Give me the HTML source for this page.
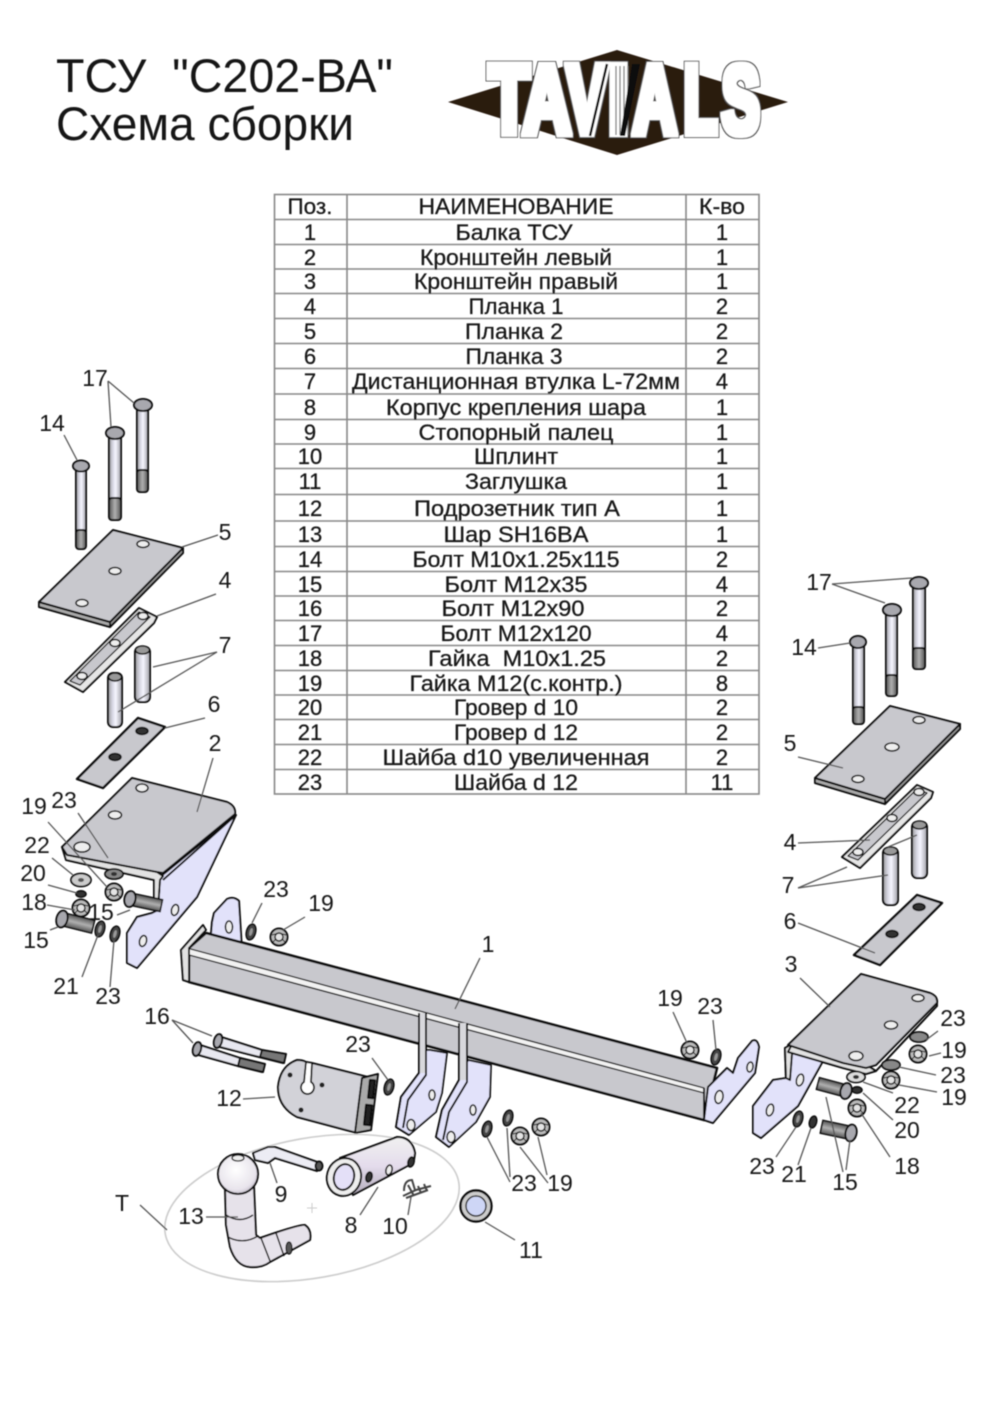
<!DOCTYPE html>
<html><head><meta charset="utf-8">
<style>
html,body{margin:0;padding:0;background:#fff}
svg{display:block}
text{font-family:"Liberation Sans",sans-serif;fill:#151515}
.l text{font-size:23px;text-anchor:middle}
.t text{font-size:22px;text-anchor:middle;stroke:#151515;stroke-width:.25}
.ld line{stroke:#555;stroke-width:1.3}
.p{stroke:#111;stroke-width:2;stroke-linejoin:round}
.g{fill:#c8c8cd}
.v{fill:#e2e2fa}
.h{fill:#eee;stroke:#111;stroke-width:1.6}
.hd{fill:#a8a8ae;stroke:#111;stroke-width:2}
.sl{fill:#999;stroke:#111;stroke-width:1.6}
.d{fill:#333;stroke:#111;stroke-width:1.6}
</style></head><body>
<svg xmlns="http://www.w3.org/2000/svg" width="1000" height="1414" viewBox="0 0 1000 1414">
<defs>
<linearGradient id="sh" x1="0" x2="1" y1="0" y2="0"><stop offset="0" stop-color="#999"/><stop offset=".3" stop-color="#d4d4e0"/><stop offset=".55" stop-color="#f6f6ff"/><stop offset="1" stop-color="#a0a0a8"/></linearGradient>
<linearGradient id="th" x1="0" x2="1" y1="0" y2="0"><stop offset="0" stop-color="#555"/><stop offset=".5" stop-color="#b0b0b0"/><stop offset="1" stop-color="#555"/></linearGradient>
<linearGradient id="cy" x1="0" x2="0" y1="0" y2="1"><stop offset="0" stop-color="#f0f0f0"/><stop offset=".5" stop-color="#e4dcec"/><stop offset="1" stop-color="#b4acbc"/></linearGradient>
<radialGradient id="bl" cx=".45" cy=".4" r=".7"><stop offset="0" stop-color="#fff"/><stop offset=".7" stop-color="#e8e4ec"/><stop offset="1" stop-color="#b0a8b8"/></radialGradient>
<g id="nut"><circle r="8.5" fill="#bbb" stroke="#111" stroke-width="2"/><circle r="4" fill="#e4e4e4" stroke="#222" stroke-width="1.500"/><path d="M-7 -2L0 -4M7 -2L0 -4M-6 5L-3 2M6 5L3 2" stroke="#222" stroke-width="1" fill="none"/></g>
<g id="ws"><ellipse rx="4.500" ry="8" fill="#444" stroke="#111" stroke-width="1.600" transform="rotate(15)"/><ellipse rx="1.600" ry="4" fill="#999" transform="rotate(15)"/></g>
<filter id="lg" x="-20%" y="-20%" width="140%" height="140%">
<feMorphology in="SourceAlpha" operator="dilate" radius="2.600" result="o"/><feFlood flood-color="#555"/><feComposite in2="o" operator="in" result="oc"/>
<feMorphology in="SourceAlpha" operator="dilate" radius="1.500" result="i"/><feFlood flood-color="#fff"/><feComposite in2="i" operator="in" result="ic"/>
<feMerge><feMergeNode in="oc"/><feMergeNode in="ic"/></feMerge></filter>
<filter id="bb"><feGaussianBlur stdDeviation="0.5"/></filter>
</defs>
<rect width="1000" height="1414" fill="#fff"/>
<g filter="url(#bb)">

<text x="56" y="92" font-size="47" textLength="337" lengthAdjust="spacingAndGlyphs" xml:space="preserve">ТСУ  "С202-ВА"</text>
<text x="56" y="140" font-size="47" textLength="298" lengthAdjust="spacingAndGlyphs">Схема сборки</text>

<polygon points="448,102 617,50 788,102 617,155" fill="#2b1a10"/>
<g font-size="97" filter="url(#lg)" stroke="#000" stroke-width="5" stroke-linejoin="miter">
<text transform="translate(489,133) scale(.68,1)" style="font-weight:bold">T</text>
<text transform="translate(523,133) scale(.68,1)" style="font-weight:bold">A</text>
<text transform="translate(567,133) scale(.62,1)" style="font-weight:bold">V</text>
<text transform="translate(608,133) scale(.78,1)" style="font-weight:bold">I</text>
<text transform="translate(633,133) scale(.62,1)" style="font-weight:bold">A</text>
<text transform="translate(684,133) scale(.56,1)" style="font-weight:bold">L</text>
<text transform="translate(722,133) scale(.58,1)" style="font-weight:bold">S</text>
</g>
<path d="M616 66V135M620 66V135M624 66V135M628 66V135" stroke="#777" stroke-width="1.300" fill="none"/>
<path d="M611 64L606 136M632 64L640 64L625 136L620 136Z" fill="#111"/>
<path d="M607 64L590 136" stroke="#111" stroke-width="2.500" fill="none"/>

<g stroke="#888" stroke-width="1.600" fill="none">
<rect x="274.500" y="194.500" width="484.500" height="599.500"/>
<path d="M347 194V794M686 194V794"/>
<path d="M274 219.500H759M274 244.500H759M274 269H759M274 293.500H759M274 318.500H759M274 343.500H759M274 368.500H759M274 394H759M274 419.500H759M274 444H759M274 468.500H759M274 494.500H759M274 521H759M274 546.500H759M274 571.500H759M274 596H759M274 620.500H759M274 645.500H759M274 670.500H759M274 695H759M274 719.500H759M274 744.500H759M274 769.500H759"/>
</g>
<g class="t">
<text x="310" y="214" font-size="20" textLength="45" lengthAdjust="spacingAndGlyphs">Поз.</text><text x="516" y="214" textLength="195" lengthAdjust="spacingAndGlyphs">НАИМЕНОВАНИЕ</text><text x="722" y="214" font-size="20" textLength="46" lengthAdjust="spacingAndGlyphs">К-во</text>
<text x="310" y="240">1</text><text x="514" y="240" textLength="117" lengthAdjust="spacingAndGlyphs">Балка ТСУ</text><text x="722" y="240">1</text>
<text x="310" y="265">2</text><text x="516" y="265" textLength="192" lengthAdjust="spacingAndGlyphs">Кронштейн левый</text><text x="722" y="265">1</text>
<text x="310" y="289">3</text><text x="516" y="289" textLength="204" lengthAdjust="spacingAndGlyphs">Кронштейн правый</text><text x="722" y="289">1</text>
<text x="310" y="314">4</text><text x="516" y="314" textLength="95" lengthAdjust="spacingAndGlyphs">Планка 1</text><text x="722" y="314">2</text>
<text x="310" y="339">5</text><text x="514" y="339" textLength="98" lengthAdjust="spacingAndGlyphs">Планка 2</text><text x="722" y="339">2</text>
<text x="310" y="364">6</text><text x="514" y="364" textLength="97" lengthAdjust="spacingAndGlyphs">Планка 3</text><text x="722" y="364">2</text>
<text x="310" y="389">7</text><text x="516" y="389" textLength="328" lengthAdjust="spacingAndGlyphs">Дистанционная втулка L-72мм</text><text x="722" y="389">4</text>
<text x="310" y="415">8</text><text x="516" y="415" textLength="260" lengthAdjust="spacingAndGlyphs">Корпус крепления шара</text><text x="722" y="415">1</text>
<text x="310" y="440">9</text><text x="516" y="440" textLength="195" lengthAdjust="spacingAndGlyphs">Стопорный палец</text><text x="722" y="440">1</text>
<text x="310" y="464">10</text><text x="516" y="464" textLength="84" lengthAdjust="spacingAndGlyphs">Шплинт</text><text x="722" y="464">1</text>
<text x="310" y="489">11</text><text x="516" y="489" textLength="102" lengthAdjust="spacingAndGlyphs">Заглушка</text><text x="722" y="489">1</text>
<text x="310" y="516">12</text><text x="517" y="516" textLength="206" lengthAdjust="spacingAndGlyphs">Подрозетник тип А</text><text x="722" y="516">1</text>
<text x="310" y="542">13</text><text x="516" y="542" textLength="145" lengthAdjust="spacingAndGlyphs">Шар SH16BA</text><text x="722" y="542">1</text>
<text x="310" y="567">14</text><text x="516" y="567" textLength="207" lengthAdjust="spacingAndGlyphs">Болт М10х1.25х115</text><text x="722" y="567">2</text>
<text x="310" y="592">15</text><text x="516" y="592" textLength="143" lengthAdjust="spacingAndGlyphs">Болт М12х35</text><text x="722" y="592">4</text>
<text x="310" y="616">16</text><text x="513" y="616" textLength="143" lengthAdjust="spacingAndGlyphs">Болт М12х90</text><text x="722" y="616">2</text>
<text x="310" y="641">17</text><text x="516" y="641" textLength="151" lengthAdjust="spacingAndGlyphs">Болт М12х120</text><text x="722" y="641">4</text>
<text x="310" y="666">18</text><text x="517" y="666" textLength="178" lengthAdjust="spacingAndGlyphs" xml:space="preserve">Гайка  М10х1.25</text><text x="722" y="666">2</text>
<text x="310" y="691">19</text><text x="516" y="691" textLength="213" lengthAdjust="spacingAndGlyphs">Гайка М12(с.контр.)</text><text x="722" y="691">8</text>
<text x="310" y="715">20</text><text x="516" y="715" textLength="124" lengthAdjust="spacingAndGlyphs">Гровер d 10</text><text x="722" y="715">2</text>
<text x="310" y="740">21</text><text x="516" y="740" textLength="124" lengthAdjust="spacingAndGlyphs">Гровер d 12</text><text x="722" y="740">2</text>
<text x="310" y="765">22</text><text x="516" y="765" textLength="267" lengthAdjust="spacingAndGlyphs">Шайба d10 увеличенная</text><text x="722" y="765">2</text>
<text x="310" y="790">23</text><text x="516" y="790" textLength="124" lengthAdjust="spacingAndGlyphs">Шайба d 12</text><text x="722" y="790">11</text>
</g>

<!-- left column bolts -->
<g class="p">
<rect x="137" y="408" width="11" height="64" fill="url(#sh)"/><rect x="137" y="470" width="11" height="22" rx="3" fill="url(#th)"/><ellipse cx="143" cy="405" rx="9" ry="6" class="hd"/>
<rect x="109" y="436" width="12" height="64" fill="url(#sh)"/><rect x="109" y="498" width="12" height="22" rx="3" fill="url(#th)"/><ellipse cx="115" cy="433" rx="9" ry="6" class="hd"/>
<rect x="76" y="470" width="10" height="62" fill="url(#sh)"/><rect x="76" y="530" width="10" height="19" rx="3" fill="url(#th)"/><ellipse cx="81" cy="466" rx="8" ry="5.500" class="hd"/>
<polygon points="39,602 110,622 110,627 39,607" fill="#aaa"/><polygon points="110,622 183,548 183,553 110,627" fill="#999"/>
<polygon points="113,530 183,548 110,622 39,602" class="g"/>
<polygon points="139,608 157,617 154,623 83,692 65,682" fill="#e6e6e6"/>
<polygon points="139,612 150,617 80,685 70,681" class="g" stroke-width="1.300"/>
<rect x="135" y="647" width="15" height="55" rx="5" fill="url(#sh)"/><ellipse cx="142.500" cy="650" rx="7" ry="4" class="sl"/>
<rect x="108" y="673" width="14" height="54" rx="5" fill="url(#sh)"/><ellipse cx="115" cy="677" rx="6.500" ry="4" class="sl"/>
<polygon points="138,718 165,727 103,788 77,779" class="g" stroke-width="2.400"/>
</g>
<g>
<ellipse cx="143" cy="544" rx="6" ry="3.500" class="h"/><ellipse cx="115" cy="571" rx="6" ry="3.500" class="h"/><ellipse cx="82" cy="603" rx="6" ry="3.500" class="h"/>
<ellipse cx="143" cy="616" rx="5" ry="3.500" class="h"/><ellipse cx="115" cy="643" rx="5" ry="3.500" class="h"/><ellipse cx="82" cy="676" rx="5" ry="3.500" class="h"/>
<ellipse cx="142" cy="731" rx="6" ry="3.500" class="d"/><ellipse cx="115" cy="757" rx="6" ry="3.500" class="d"/>
</g>

<!-- bracket 2 -->
<g class="p">
<polygon points="236,815 197,897 137,968 127,963 127,933 137,917 152,913 158,910 160,877" class="v"/>
<polygon points="62,847 157,872 163,876 160,880 158,910 154,910 154,880 66,860" fill="#e2e2e2"/>
<path d="M132 778L227 802Q236 806 235 814L163 873 157 872 67 855 62 847Z" class="g"/>
<path d="M236 815L163 880" fill="none"/>
</g>
<ellipse cx="142" cy="788" rx="6" ry="4" class="h"/><ellipse cx="115" cy="815" rx="6.500" ry="4" class="h"/><ellipse cx="82" cy="847" rx="8" ry="5" class="h"/>
<ellipse cx="175" cy="910" rx="3.500" ry="5.500" class="h" transform="rotate(15 175 910)"/><ellipse cx="143" cy="941" rx="3.500" ry="5.500" class="h" transform="rotate(15 143 941)"/>

<!-- left hardware -->
<g>
<ellipse cx="81" cy="880" rx="10" ry="6.500" fill="#ccc" stroke="#111" stroke-width="1.800"/><ellipse cx="81" cy="880" rx="3" ry="2" fill="#555"/>
<ellipse cx="81" cy="894" rx="5" ry="3.200" class="d"/>
<use href="#nut" x="81" y="908"/>
<use href="#nut" x="114" y="892"/>
<ellipse cx="114" cy="874" rx="9" ry="5" fill="#888" stroke="#111" stroke-width="1.800"/><ellipse cx="114" cy="874" rx="3" ry="2" fill="#333"/>
<g transform="translate(130,899) rotate(-78)"><rect x="-6" y="4" width="12" height="28" fill="url(#th)" stroke="#111" stroke-width="1.600"/><ellipse rx="8" ry="5.500" class="hd"/></g>
<g transform="translate(62,919) rotate(-76)"><rect x="-6.500" y="4" width="13" height="28" fill="url(#th)" stroke="#111" stroke-width="1.600"/><ellipse rx="8.500" ry="5.500" class="hd"/></g>
<use href="#ws" x="100" y="929"/>
<use href="#ws" x="115" y="934"/>
<use href="#ws" x="251" y="932"/>
<use href="#nut" x="279" y="937"/>
</g>

<!-- beam -->
<g class="p">
<path d="M210 945L212 922 214 913 227 899Q234 896 239 901L242 950Z" class="v"/>
<polygon points="206,933 717,1068 704,1120 189,982 189,948" class="g" stroke-width="2.600"/>
<polygon points="187,948 704,1088 704,1093 189,955" fill="#f2f2f2" stroke-width="1.400"/>
<polygon points="181,950 203,925 206,930 189,948 189,982 183,980" fill="#e2e2e2"/>
<path d="M708 1087L727 1068 733 1073 738 1058 752 1041Q757 1038 759 1047L755 1073 713 1123 704 1120Z" class="v"/>
<path d="M704 1088V1120" fill="none"/>
</g>
<ellipse cx="229" cy="927" rx="3.500" ry="6" class="h"/>
<ellipse cx="719" cy="1097" rx="4" ry="6.500" class="h" transform="rotate(10 719 1097)"/><ellipse cx="750" cy="1067" rx="3" ry="5" class="h" transform="rotate(10 750 1067)"/>
<use href="#nut" x="690" y="1050"/><use href="#ws" x="716" y="1057"/>

<!-- center brackets -->
<g class="p">
<polygon points="430,1050 447,1053 442,1093 436,1112 409,1135 396,1127 401,1097 419,1073 423,1050" class="v" stroke-width="1.800"/>
<polygon points="468,1060 491,1065 490,1097 476,1122 449,1147 436,1137 442,1110 459,1080" class="v" stroke-width="1.800"/>
<rect x="419" y="1013" width="7" height="60" fill="#d8d8dc" stroke="none"/><rect x="459" y="1023" width="8" height="57" fill="#d8d8dc" stroke="none"/>
<path d="M419 1013V1073L401 1097 396 1127 409 1135M426 1013V1075L408 1100 403 1128" fill="none"/>
<path d="M459 1023V1080L442 1110 436 1137 449 1147M467 1023V1082L449 1112 443 1140" fill="none"/>
</g>
<ellipse cx="432" cy="1095" rx="3" ry="5" class="h"/><ellipse cx="411" cy="1125" rx="4" ry="5.500" class="h"/><ellipse cx="473" cy="1110" rx="3" ry="5" class="h"/><ellipse cx="451" cy="1137" rx="4" ry="5.500" class="h"/>
<use href="#ws" x="487" y="1129"/><use href="#ws" x="508" y="1118"/><use href="#nut" x="520" y="1136"/><use href="#nut" x="541" y="1127"/>

<!-- bolts 16, plate 12 -->
<g class="p" stroke-width="1.800">
<polygon points="218,1036 262,1050 285,1055 283,1063 259,1057 216,1046" fill="#e8e8f0"/>
<polygon points="262,1050 286,1054 284,1063 260,1057" fill="#777"/>
<ellipse cx="218" cy="1041" rx="4" ry="7" class="hd" transform="rotate(15 218 1041)"/>
<polygon points="197,1044 240,1058 264,1064 262,1072 238,1066 195,1054" fill="#e8e8f0"/>
<polygon points="240,1058 265,1064 263,1072 238,1066" fill="#777"/>
<ellipse cx="197" cy="1049" rx="4" ry="7" class="hd" transform="rotate(15 197 1049)"/>
</g>
<g class="p">
<path d="M297 1060Q303 1060 306 1062L312 1063 372 1078 357 1133 297 1117Q278 1107 278 1087 Q280 1066 297 1060Z" fill="#d2d2d8"/>
<path d="M306 1062L304 1082A6.500 6.500 0 1 0 311 1082L312 1063Z" fill="#fff" stroke-width="1.800"/>
<polygon points="362,1078 378,1074 371,1130 355,1133" fill="#aaa"/>
<rect x="369" y="1080" width="5" height="18" fill="#222" transform="rotate(6 371 1089)"/><rect x="365" y="1105" width="6" height="20" fill="#222" transform="rotate(6 368 1115)"/>
</g>
<circle cx="290" cy="1075" r="2.500" fill="#222"/><circle cx="322" cy="1085" r="2.500" fill="#222"/><circle cx="301" cy="1110" r="2.500" fill="#222"/>
<use href="#ws" x="389" y="1087"/>

<!-- T ellipse group -->
<ellipse cx="312" cy="1208" rx="149" ry="70" fill="none" stroke="#ccc" stroke-width="1.600" transform="rotate(-10 312 1208)"/>
<path d="M312 1203V1213M307 1208H317" stroke="#ccc" stroke-width="1"/>
<g class="p">
<path d="M253 1153L268 1147 275 1147 320 1163 317 1171 275 1158 268 1163 255 1160Z" fill="#ececf4"/>
<ellipse cx="319" cy="1166" rx="3.500" ry="4.500" fill="#555"/>
<path d="M225 1187L226 1225 230 1247Q236 1266 250 1267 262 1268 270 1262L310 1240Q312 1230 305 1225 300 1224 260 1238L256 1235 254 1187Z" fill="#e6e2ea"/>
<path d="M226 1215Q240 1224 253 1215M228 1237Q243 1245 258 1236M261 1238L270 1261M276 1233L284 1256" fill="none" stroke-width="1.500"/>
<circle cx="238" cy="1174" r="20" fill="url(#bl)"/>
<ellipse cx="238" cy="1158" rx="6" ry="3" fill="#eee" stroke-width="1.300"/>
<ellipse cx="289" cy="1248" rx="3" ry="6" fill="#555" stroke-width="1.200"/>
<path d="M340 1158L397 1137Q412 1137 415 1153 414 1162 413 1163L353 1195Z" fill="url(#cy)"/>
<ellipse cx="344" cy="1177" rx="17" ry="19" fill="#eee" transform="rotate(15 344 1177)"/>
<ellipse cx="344" cy="1177" rx="10" ry="13" fill="#e4e0f8" transform="rotate(15 344 1177)"/>
</g>
<ellipse cx="369" cy="1177" rx="3" ry="5" class="d" transform="rotate(15 369 1177)"/><ellipse cx="389" cy="1170" rx="3" ry="5" class="h" transform="rotate(15 389 1170)"/><ellipse cx="411" cy="1162" rx="3" ry="5" class="d" transform="rotate(15 411 1162)"/>
<path d="M403 1196L416 1190 431 1186M404 1191Q404 1180 412 1180L415 1190M406 1198L428 1190M408 1185L414 1196M418 1186L421 1193M424 1184L427 1191" stroke="#444" stroke-width="2" fill="none"/>
<circle cx="476" cy="1206" r="15.500" fill="#ccc" stroke="#111" stroke-width="2.400"/><circle cx="476" cy="1206" r="10" fill="#ced6f6" stroke="#333" stroke-width="1.500"/>

<!-- right column -->
<g class="p">
<rect x="913" y="586" width="12" height="64" fill="url(#sh)"/><rect x="913" y="648" width="12" height="21" rx="3" fill="url(#th)"/><ellipse cx="919" cy="583" rx="9" ry="6" class="hd"/>
<rect x="886" y="613" width="11" height="64" fill="url(#sh)"/><rect x="886" y="675" width="11" height="21" rx="3" fill="url(#th)"/><ellipse cx="892" cy="610" rx="9" ry="6" class="hd"/>
<rect x="853" y="645" width="11" height="64" fill="url(#sh)"/><rect x="853" y="707" width="11" height="17" rx="3" fill="url(#th)"/><ellipse cx="858" cy="642" rx="8" ry="6" class="hd"/>
<polygon points="815,778 885,799 885,804 815,783" fill="#aaa"/><polygon points="885,799 960,724 960,729 885,804" fill="#999"/>
<polygon points="890,706 960,724 885,799 815,778" class="g"/>
<polygon points="917,785 933,792 931,798 860,868 842,857" fill="#e6e6e6"/>
<polygon points="917,789 927,793 858,860 848,856" class="g" stroke-width="1.300"/>
<rect x="912" y="822" width="15" height="56" rx="5" fill="url(#sh)"/><ellipse cx="919.500" cy="825" rx="7" ry="4" class="sl"/>
<rect x="883" y="848" width="15" height="57" rx="5" fill="url(#sh)"/><ellipse cx="890.500" cy="851" rx="7" ry="4" class="sl"/>
<polygon points="917,895 942,903 880,965 854,955" class="g" stroke-width="2.400"/>
</g>
<ellipse cx="919" cy="720" rx="6" ry="3.500" class="h"/><ellipse cx="892" cy="747" rx="7" ry="4" class="h"/><ellipse cx="858" cy="779" rx="6" ry="3.500" class="h"/>
<ellipse cx="919" cy="792" rx="5" ry="3.500" class="h"/><ellipse cx="892" cy="818" rx="5" ry="3.500" class="h"/><ellipse cx="858" cy="852" rx="5" ry="3.500" class="h"/>
<ellipse cx="919" cy="907" rx="6" ry="3.500" class="d"/><ellipse cx="892" cy="934" rx="6" ry="3.500" class="d"/>

<!-- bracket 3 -->
<g class="p">
<polygon points="785,1048 786,1078 773,1080 753,1106 753,1133 761,1138 798,1106 823,1061 793,1053" class="v"/>
<polygon points="785,1048 792,1044 792,1054 790,1080 786,1078" fill="#e2e2e2"/>
<polygon points="788,1052 843,1068 866,1074 876,1071 868,1066 843,1060 792,1044" fill="#e2e2e2"/>
<path d="M861 974L930 993Q938 996 937 1003L876 1065 866 1068 843 1063 788 1045Z" class="g"/>
<path d="M937 1003V1006L876 1071" fill="none"/>
</g>
<ellipse cx="918" cy="998" rx="6" ry="3.500" class="h"/><ellipse cx="891" cy="1025" rx="6.500" ry="4" class="h"/><ellipse cx="856" cy="1056" rx="7" ry="4.500" class="h"/>
<ellipse cx="800" cy="1080" rx="3.500" ry="6" class="h" transform="rotate(15 800 1080)"/><ellipse cx="770" cy="1110" rx="3.500" ry="6" class="h" transform="rotate(15 770 1110)"/>
<g>
<ellipse cx="919" cy="1037" rx="9" ry="5" fill="#888" stroke="#111" stroke-width="1.800"/><use href="#nut" x="918" y="1054"/>
<ellipse cx="891" cy="1065" rx="9" ry="5" fill="#888" stroke="#111" stroke-width="1.800"/><use href="#nut" x="891" y="1080"/>
<ellipse cx="856" cy="1077" rx="9" ry="5.500" fill="#ddd" stroke="#111" stroke-width="1.800"/><ellipse cx="856" cy="1077" rx="3" ry="2" fill="#333"/>
<ellipse cx="857" cy="1090" rx="5" ry="3.200" class="d"/>
<use href="#nut" x="857" y="1108"/>
<g transform="translate(846,1091) rotate(105)"><rect x="-6" y="2" width="12" height="27" fill="url(#th)" stroke="#111" stroke-width="1.600"/><ellipse rx="8" ry="5.500" class="hd"/></g>
<g transform="translate(851,1133) rotate(102)"><rect x="-6.500" y="2" width="13" height="28" fill="url(#th)" stroke="#111" stroke-width="1.600"/><ellipse rx="8.500" ry="5.500" class="hd"/></g>
<use href="#ws" x="798" y="1119"/><ellipse cx="813" cy="1122" rx="3.500" ry="6" class="d" transform="rotate(15 813 1122)"/>
</g>

<!-- leaders -->
<g class="ld">
<line x1="108" y1="381" x2="134" y2="403"/><line x1="108" y1="381" x2="111" y2="427"/><line x1="64" y1="435" x2="77" y2="460"/>
<line x1="218" y1="535" x2="182" y2="547"/><line x1="216" y1="594" x2="157" y2="616"/><line x1="217" y1="652" x2="153" y2="667"/><line x1="217" y1="652" x2="118" y2="712"/>
<line x1="205" y1="718" x2="165" y2="728"/><line x1="213" y1="758" x2="197" y2="812"/>
<line x1="48" y1="822" x2="107" y2="887"/><line x1="78" y1="813" x2="108" y2="858"/><line x1="52" y1="858" x2="73" y2="875"/><line x1="48" y1="885" x2="77" y2="893"/><line x1="47" y1="905" x2="75" y2="910"/><line x1="50" y1="930" x2="58" y2="927"/><line x1="117" y1="915" x2="130" y2="910"/><line x1="82" y1="977" x2="98" y2="935"/><line x1="110" y1="987" x2="114" y2="940"/>
<line x1="262" y1="903" x2="252" y2="923"/><line x1="305" y1="917" x2="283" y2="930"/><line x1="480" y1="958" x2="455" y2="1009"/><line x1="673" y1="1012" x2="687" y2="1043"/><line x1="713" y1="1020" x2="716" y2="1050"/>
<line x1="800" y1="978" x2="830" y2="1007"/><line x1="938" y1="1031" x2="926" y2="1040"/><line x1="941" y1="1053" x2="929" y2="1056"/><line x1="936" y1="1075" x2="899" y2="1067"/><line x1="937" y1="1092" x2="899" y2="1085"/>
<line x1="893" y1="1093" x2="863" y2="1082"/><line x1="893" y1="1120" x2="863" y2="1093"/><line x1="890" y1="1157" x2="861" y2="1113"/><line x1="843" y1="1172" x2="826" y2="1097"/><line x1="846" y1="1170" x2="850" y2="1140"/><line x1="798" y1="1165" x2="811" y2="1128"/><line x1="776" y1="1157" x2="796" y2="1127"/>
<line x1="832" y1="584" x2="912" y2="578"/><line x1="832" y1="584" x2="885" y2="603"/><line x1="818" y1="648" x2="850" y2="643"/><line x1="798" y1="757" x2="843" y2="768"/><line x1="798" y1="843" x2="870" y2="840"/><line x1="798" y1="888" x2="847" y2="867"/><line x1="798" y1="888" x2="888" y2="875"/><line x1="888" y1="847" x2="917" y2="835"/><line x1="798" y1="923" x2="875" y2="953"/>
<line x1="172" y1="1020" x2="212" y2="1036"/><line x1="172" y1="1020" x2="193" y2="1043"/><line x1="243" y1="1099" x2="275" y2="1097"/><line x1="372" y1="1058" x2="388" y2="1080"/><line x1="206" y1="1217" x2="238" y2="1217"/><line x1="277" y1="1183" x2="270" y2="1163"/><line x1="360" y1="1215" x2="378" y2="1187"/><line x1="408" y1="1215" x2="411" y2="1197"/><line x1="515" y1="1240" x2="485" y2="1222"/><line x1="140" y1="1205" x2="167" y2="1230"/>
<line x1="510" y1="1182" x2="487" y2="1137"/><line x1="510" y1="1177" x2="507" y2="1128"/><line x1="548" y1="1183" x2="520" y2="1147"/><line x1="547" y1="1175" x2="538" y2="1137"/>
</g>

<!-- labels -->
<g class="l">
<text x="95" y="386">17</text><text x="52" y="431">14</text><text x="225" y="540">5</text><text x="225" y="588">4</text><text x="225" y="653">7</text><text x="214" y="712">6</text><text x="215" y="751">2</text>
<text x="34" y="814">19</text><text x="64" y="808">23</text><text x="37" y="853">22</text><text x="33" y="881">20</text><text x="34" y="910">18</text><text x="36" y="948">15</text><text x="101" y="920">15</text><text x="66" y="994">21</text><text x="108" y="1004">23</text>
<text x="276" y="897">23</text><text x="321" y="911">19</text><text x="488" y="952">1</text><text x="670" y="1006">19</text><text x="710" y="1014">23</text><text x="791" y="972">3</text>
<text x="953" y="1026">23</text><text x="954" y="1058">19</text><text x="953" y="1083">23</text><text x="954" y="1105">19</text><text x="907" y="1113">22</text><text x="907" y="1138">20</text><text x="907" y="1174">18</text><text x="845" y="1190">15</text><text x="794" y="1182">21</text><text x="762" y="1174">23</text>
<text x="819" y="590">17</text><text x="804" y="655">14</text><text x="790" y="751">5</text><text x="790" y="850">4</text><text x="788" y="893">7</text><text x="790" y="929">6</text>
<text x="157" y="1024">16</text><text x="229" y="1106">12</text><text x="358" y="1052">23</text><text x="191" y="1224">13</text><text x="281" y="1202">9</text><text x="351" y="1233">8</text><text x="395" y="1234">10</text><text x="531" y="1258">11</text><text x="122" y="1211">T</text><text x="524" y="1191">23</text><text x="560" y="1191">19</text>
</g>
</g>
</svg>
</body></html>
